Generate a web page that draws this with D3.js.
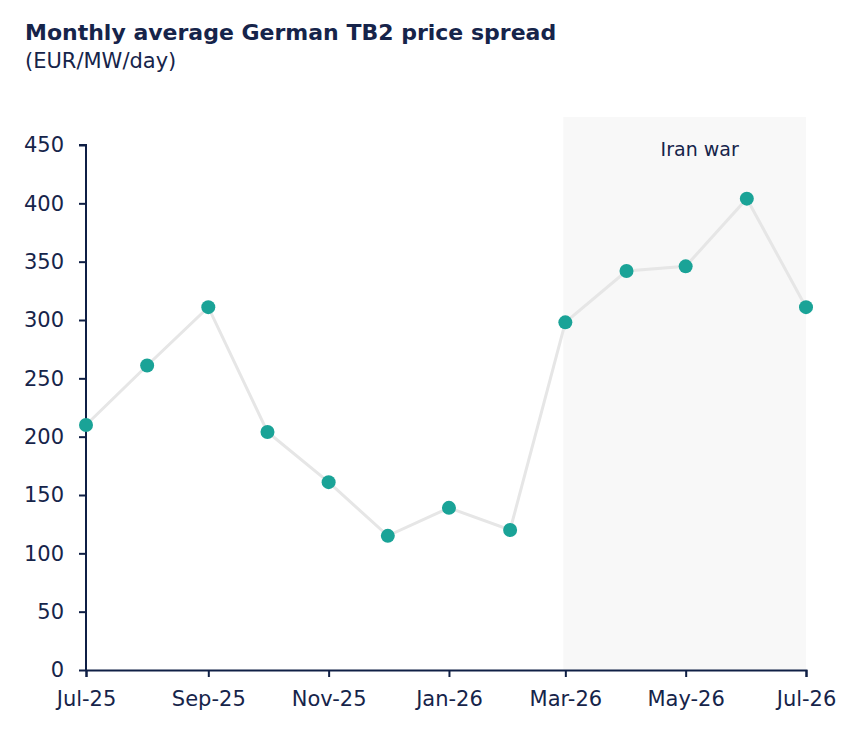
<!DOCTYPE html>
<html>
<head>
<meta charset="utf-8">
<script src="https://cdn.jsdelivr.net/npm/d3@7"></script>
<style>
  body { margin: 0; background: #fff; }
  text { font-family: "DejaVu Sans", sans-serif; fill: #16244a; }
</style>
</head>
<body>
<div id="chart"></div>
<script>
// Data
var months = ["2025-07-01", "2025-08-01", "2025-09-01", "2025-10-01", "2025-11-01", "2025-12-01",
  "2026-01-01", "2026-02-01", "2026-03-01", "2026-04-01", "2026-05-01", "2026-06-01", "2026-07-01"];
var spread = [210, 261, 311, 204, 161, 115, 139, 120, 298, 342, 346, 404, 311];
var yTicks = [0, 50, 100, 150, 200, 250, 300, 350, 400, 450];
var xTicks = ["2025-07-01", "2025-09-01", "2025-11-01", "2026-01-01", "2026-03-01", "2026-05-01", "2026-07-01"];
var warStart = "2026-02-28";
var warEnd = "2026-07-01";
var warTop = 474;
var warLabel = "Iran war";

// Set up chart
var svgWidth = 851;
var svgHeight = 738;

var margin = { top: 145, right: 45, bottom: 68, left: 86 };

var width = svgWidth - margin.left - margin.right;
var height = svgHeight - margin.top - margin.bottom;

var parseDate = d3.timeParse("%Y-%m-%d");
var data = months.map(function(m, i) {
  return { date: parseDate(m), value: spread[i] };
});

var svg = d3.select("#chart")
  .append("svg")
  .attr("width", svgWidth)
  .attr("height", svgHeight);

// Title
svg.append("text")
  .attr("x", 25)
  .attr("y", 40)
  .style("font-size", "22px")
  .style("font-weight", "bold")
  .text("Monthly average German TB2 price spread");

svg.append("text")
  .attr("x", 25)
  .attr("y", 68)
  .style("font-size", "21px")
  .text("(EUR/MW/day)");

var chartGroup = svg.append("g")
  .attr("transform", `translate(${margin.left}, ${margin.top})`);

// Scales
var xTimeScale = d3.scaleTime()
  .domain([parseDate(months[0]), parseDate(months[months.length - 1])])
  .range([0, width]);

var yLinearScale = d3.scaleLinear()
  .domain([0, 450])
  .range([height, 0]);

// Shaded period
chartGroup.append("rect")
  .attr("x", xTimeScale(parseDate(warStart)))
  .attr("y", yLinearScale(warTop))
  .attr("width", xTimeScale(parseDate(warEnd)) - xTimeScale(parseDate(warStart)))
  .attr("height", yLinearScale(0) - yLinearScale(warTop))
  .attr("fill", "#f8f8f8");

chartGroup.append("text")
  .attr("x", (xTimeScale(parseDate(warStart)) + xTimeScale(parseDate(warEnd))) / 2 + 15)
  .attr("y", yLinearScale(warTop) + 39)
  .attr("text-anchor", "middle")
  .style("font-size", "19px")
  .text(warLabel);

// Axes
var bottomAxis = d3.axisBottom(xTimeScale)
  .tickValues(xTicks.map(parseDate))
  .tickFormat(d3.timeFormat("%b-%y"))
  .tickSize(7)
  .tickPadding(14);

var leftAxis = d3.axisLeft(yLinearScale)
  .tickValues(yTicks)
  .tickSize(7)
  .tickPadding(15);

var xAxisG = chartGroup.append("g")
  .attr("transform", `translate(0, ${height})`)
  .call(bottomAxis);

var yAxisG = chartGroup.append("g")
  .call(leftAxis);

[xAxisG, yAxisG].forEach(function(g) {
  g.select(".domain").attr("stroke", "#0f1f45").attr("stroke-width", 2);
  g.selectAll(".tick line").attr("stroke", "#0f1f45").attr("stroke-width", 2);
  g.selectAll(".tick text")
    .style("font-family", "'DejaVu Sans', sans-serif")
    .style("font-size", "21px")
    .attr("fill", "#16244a");
});
yAxisG.select(".domain").attr("d", `M-7,0H0V${height}`);

// Line and points
var line = d3.line()
  .x(d => xTimeScale(d.date))
  .y(d => yLinearScale(d.value));

chartGroup.append("path")
  .datum(data)
  .attr("d", line)
  .attr("fill", "none")
  .attr("stroke", "#e6e6e6")
  .attr("stroke-width", 3);

chartGroup.selectAll("circle")
  .data(data)
  .enter()
  .append("circle")
  .attr("cx", d => xTimeScale(d.date))
  .attr("cy", d => yLinearScale(d.value))
  .attr("r", 7)
  .attr("fill", "#1aa397");
</script>
</body>
</html>
